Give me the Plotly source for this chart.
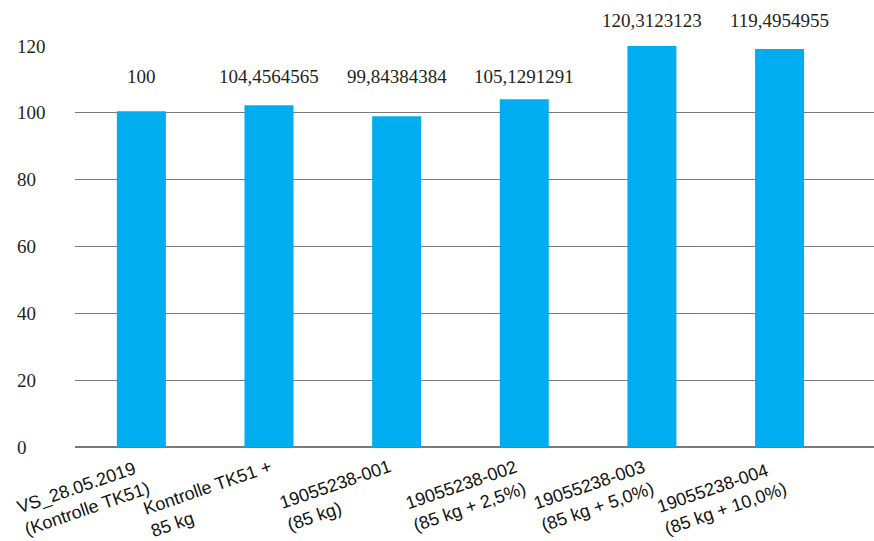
import plotly.graph_objects as go

# ---- data ----
categories = [
    "VS_28.05.2019<br>(Kontrolle TK51)",
    "Kontrolle TK51 +<br>85 kg",
    "19055238-001<br>(85 kg)",
    "19055238-002<br>(85 kg + 2,5%)",
    "19055238-003<br>(85 kg + 5,0%)",
    "19055238-004<br>(85 kg + 10,0%)",
]
bar_values = [100.5, 102.3, 99.0, 104.1, 120.3, 119.1]
label_texts = ["100", "104,4564565", "99,84384384", "105,1291291", "120,3123123", "119,4954955"]
y_ticks = [0, 20, 40, 60, 80, 100, 120]

# ---- layout / style ----
Y_MAX = 120
label_y = [111, 111, 111, 111, 127.5, 127.5]
BAR_COLOR = "#00AEEF"
SERIF = "Liberation Serif"
SANS = "Liberation Sans"
idx = list(range(len(categories)))

fig = go.Figure()
fig.add_trace(go.Bar(x=idx, y=bar_values, marker_color=BAR_COLOR, width=0.384,
                     marker_line_width=0, hoverinfo="skip"))

ann = []
for i, t, ly in zip(idx, label_texts, label_y):
    ann.append(dict(x=i, y=ly / Y_MAX, xref="x", yref="paper", text=t, showarrow=False,
                    xanchor="center", yanchor="middle",
                    font=dict(family=SERIF, size=19, color="#231F20")))
for v in y_ticks:
    ann.append(dict(x=0, y=v, xref="paper", yref="y", text=str(v), showarrow=False,
                    xanchor="left", yanchor="middle", xshift=-60,
                    font=dict(family=SERIF, size=19, color="#231F20")))
for i, c in zip(idx, categories):
    ann.append(dict(x=i, y=0, xref="x", yref="paper", text=c, showarrow=False,
                    textangle=-19, align="left", xanchor="center", yanchor="top",
                    xshift=-58, yshift=-8, borderpad=0,
                    font=dict(family=SANS, size=18, color="#111111")))

fig.update_layout(
    width=874, height=541,
    margin=dict(l=75, r=0, t=46, b=94),
    paper_bgcolor="white", plot_bgcolor="white",
    showlegend=False,
    annotations=ann,
    xaxis=dict(range=[-0.52, 5.74], showticklabels=False, showgrid=False,
               zeroline=False, showline=False, ticks=""),
    yaxis=dict(range=[0, Y_MAX], tickvals=y_ticks, showticklabels=False,
               showgrid=True, gridcolor="#7a7a7a", gridwidth=1.2,
               zeroline=True, zerolinecolor="#7a7a7a", zerolinewidth=1.5,
               showline=False, ticks=""),
)

fig.write_html("out.html")
